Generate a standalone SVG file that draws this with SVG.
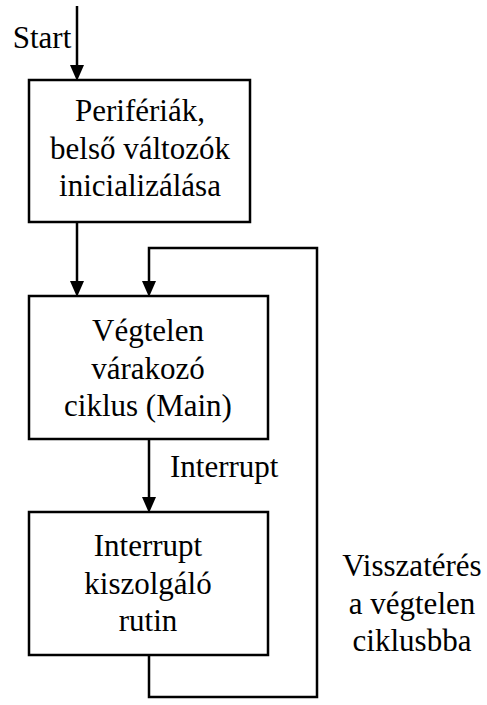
<svg xmlns="http://www.w3.org/2000/svg" width="487" height="705" viewBox="0 0 487 705">
<style>
.box{fill:#fff;stroke:#000;stroke-width:2.5}
.ln{fill:none;stroke:#000;stroke-width:2.5}
.t{font-family:'Liberation Serif','Times New Roman','DejaVu Serif',serif;font-size:31px;fill:#000}
.c{text-anchor:middle}
</style>
<rect width="487" height="705" fill="#fff"/>
<g id="connectors">
<line class="ln" x1="77" y1="6" x2="77" y2="70"/>
<line class="ln" x1="77" y1="222" x2="77" y2="286"/>
<path class="ln" d="M149,655 V697 H317 V248 H149 V286"/>
<line class="ln" x1="149" y1="439" x2="149" y2="502"/>
<path d="M70,65 L84,65 L77,81 Z"/>
<path d="M70,281 L84,281 L77,297 Z"/>
<path d="M142,281 L156,281 L149,297 Z"/>
<path d="M142,497 L156,497 L149,513 Z"/>
</g>
<g id="start-label"><text class="t c" x="42" y="48" font-family="Liberation Serif, serif">Start</text></g>
<g id="node-init">
<rect class="box" x="29" y="80" width="221" height="142"/>
<text class="t c" x="140" y="121">Perifériák,</text>
<text class="t c" x="140" y="159">belső változók</text>
<text class="t c" x="140" y="196">inicializálása</text>
</g>
<g id="node-main">
<rect class="box" x="29" y="296" width="239" height="143"/>
<text class="t c" x="148" y="341">Végtelen</text>
<text class="t c" x="148" y="379">várakozó</text>
<text class="t c" x="148" y="416">ciklus (Main)</text>
</g>
<g id="interrupt-label"><text class="t" x="170" y="477">Interrupt</text></g>
<g id="node-isr">
<rect class="box" x="29" y="512" width="239" height="143"/>
<text class="t c" x="148" y="556">Interrupt</text>
<text class="t c" x="148" y="594">kiszolgáló</text>
<text class="t c" x="148" y="631">rutin</text>
</g>
<g id="return-label">
<text class="t c" x="412" y="576">Visszatérés</text>
<text class="t c" x="412" y="614">a végtelen</text>
<text class="t c" x="412" y="651">ciklusbba</text>
</g>
</svg>
